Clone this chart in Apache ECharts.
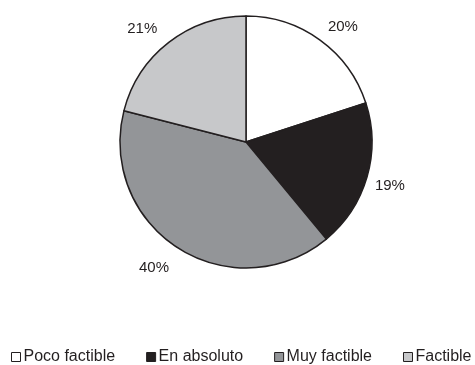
<!DOCTYPE html>
<html>
<head>
<meta charset="utf-8">
<script src="https://cdn.jsdelivr.net/npm/echarts@6/dist/echarts.min.js"></script>
<style>
  html, body { margin: 0; padding: 0; background: #ffffff; }
  #chart { width: 475px; height: 365px; }
</style>
</head>
<body>
<div id="chart"></div>
<script>
// Survey answers and their shares (percent)
const categories = ['Poco factible', 'En absoluto', 'Muy factible', 'Factible'];
const shares = [20, 19, 40, 21];
const sliceColors = ['#ffffff', '#231f20', '#939598', '#c7c8ca'];
// small per-label nudges so the percentages sit where the layout wants them
const labelNudge = [[7, 9], [-3, 1], [-10, -3], [-10, 8]];

const INK = '#231f20';
const FONT = '"Liberation Sans", Arial, sans-serif';

const slices = categories.map((name, i) => ({
  name: name,
  value: shares[i],
  itemStyle: { color: sliceColors[i] }
}));

const chart = echarts.init(document.getElementById('chart'), null, { renderer: 'canvas' });

chart.setOption({
  animation: false,
  backgroundColor: '#ffffff',
  legend: {
    data: categories,
    left: 6,
    top: 344,
    width: 520,
    icon: 'rect',
    itemWidth: 9,
    itemHeight: 9,
    itemGap: 31,
    itemStyle: { borderColor: INK, borderWidth: 1 },
    textStyle: { color: INK, fontFamily: FONT, fontSize: 16, padding: [0, 0, 0, -2] },
    selectedMode: false
  },
  series: [
    {
      // the pie itself
      type: 'pie',
      center: [246, 142],
      radius: [0, 126],
      startAngle: 90,
      clockwise: true,
      silent: true,
      label: { show: false },
      labelLine: { show: false },
      itemStyle: { borderColor: INK, borderWidth: 1.5 },
      data: slices
    },
    {
      // invisible ring that carries the percentage labels just outside the pie
      type: 'pie',
      center: [246, 142],
      radius: [126, 174],
      startAngle: 90,
      clockwise: true,
      silent: true,
      legendHoverLink: false,
      itemStyle: { color: 'transparent', borderWidth: 0 },
      label: {
        show: true,
        position: 'inside',
        formatter: '{c}%',
        color: INK,
        fontFamily: FONT,
        fontSize: 15
      },
      labelLine: { show: false },
      data: categories.map((name, i) => ({
        name: name,
        value: shares[i],
        label: { offset: labelNudge[i] }
      }))
    }
  ]
});
</script>
</body>
</html>
